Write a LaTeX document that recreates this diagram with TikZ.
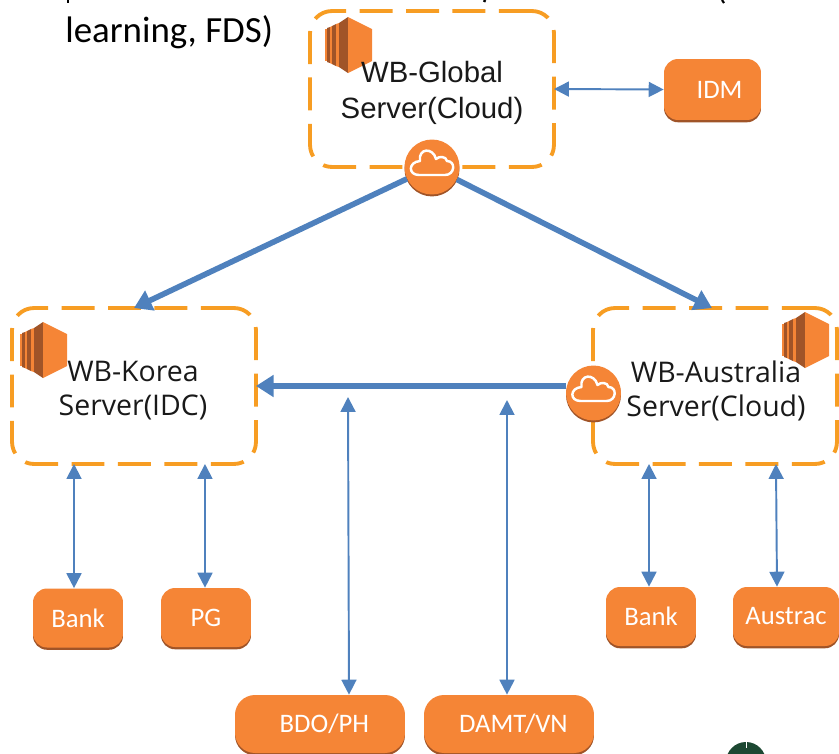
\documentclass[tikz,border=0pt]{standalone}
\usepackage{fontspec}
\setmainfont{Carlito}
\newfontfamily\arialfont{Liberation Sans}
\newfontfamily\segoefont{Open Sans}
\usetikzlibrary{arrows.meta,shadows}
\definecolor{awsorange}{RGB}{245,133,54}
\definecolor{awsdark}{RGB}{160,84,40}
\definecolor{dashorange}{RGB}{247,157,35}
\definecolor{linkblue}{RGB}{79,129,189}
\definecolor{logogreen}{RGB}{28,72,50}
\tikzset{
    serverstack/.pic={
        \fill[awsorange] (0,12) -- (2,12) -- (2,44) -- (0,44) -- cycle;
        \fill[awsdark] (2,11) -- (5,10) -- (5,46) -- (2,45) -- cycle;
        \fill[awsorange] (5,10) -- (7,9) -- (7,47) -- (5,46) -- cycle;
        \fill[awsdark] (7,9) -- (11,7) -- (11,49) -- (7,47) -- cycle;
        \fill[awsorange] (11,7) -- (14,6) -- (14,50) -- (11,49) -- cycle;
        \fill[awsdark] (14,6) -- (23,0) -- (23,56) -- (14,50) -- cycle;
        \fill[awsorange] (23,0) -- (47,12) -- (47,44) -- (23,56) -- cycle;
    },
    cloudmark/.pic={
        \draw[white, line width=1.4pt, line join=round]
            (-13,8) -- (13,8) .. controls (23,8) and (24,-6) .. (15,-6)
            .. controls (14,-11) and (7,-11) .. (4,-8)
            .. controls (1,-20) and (-14,-19) .. (-12,-6)
            .. controls (-24,-5) and (-24,8) .. (-13,8) -- cycle;
    }
}

\begin{document}
\begin{tikzpicture}[
    x=0.02cm, y=-0.02cm,
    serverbox/.style={rectangle, draw=dashorange, line width=2.2pt, rounded corners=0.44cm, dash pattern=on 0.66cm off 0.27cm, minimum width=4.88cm, minimum height=3.12cm, outer sep=0pt},
    serverlabel/.style={align=center, inner sep=0pt, font=\segoefont\fontsize{16.2}{19.3}\selectfont, text=black!90},
    endpoint/.style={rectangle, fill=awsorange, rounded corners=0.28cm, minimum width=1.8cm, minimum height=1.18cm, inner sep=0pt, align=center, text=white, font=\fontsize{15.2}{18}\selectfont, general shadow={shadow yshift=-1.3pt, fill=awsdark}},
    cloudgate/.style={circle, fill=awsorange, minimum size=1.1cm, inner sep=0pt, general shadow={shadow yshift=-1.1pt, fill=awsdark}},
    trunk/.style={-{Triangle[length=10pt, width=12pt]}, linkblue, line width=3.2pt},
    link/.style={{Triangle[length=8.5pt, width=8.5pt]}-{Triangle[length=8.5pt, width=8.5pt]}, linkblue, line width=1.1pt},
    note/.style={inner sep=0pt, anchor=base west, font=\fontsize{21}{25}\selectfont}
]
\clip (0,0) rectangle (839,754);

% Slide text cut off at the top
\node[note] (noteline) at (65,42) {learning, FDS)};
\draw[black, line width=1.4pt] (68,0) -- (68,3);
\draw[black, line width=1.4pt] (485,0) -- (484,2);
\draw[black, line width=1.2pt] (722,0) -- (724,3);

% Server icons
\pic at (325,17) {serverstack};
\pic at (20,322) {serverstack};
\pic at (782,312) {serverstack};

% Servers
\node[serverbox] (global) at (432,89) {};
\node[serverbox] (korea) at (134,386) {};
\node[serverbox] (australia) at (715,386) {};
\node[serverlabel, font=\arialfont\fontsize{16.7}{20.4}\selectfont] (globallabel) at (432,92.5) {WB-Global\\Server(Cloud)};
\node[serverlabel] (korealabel) at (133,391) {WB-Korea\\Server(IDC)};
\node[serverlabel] (australialabel) at (716,391) {WB-Australia\\Server(Cloud)};

% Cloud gateways
\node[cloudgate] (cloudglobal) at (432,167) {};
\node[cloudgate] (cloudaustralia) at (593.5,393) {};
\pic at (cloudglobal) {cloudmark};
\pic at (cloudaustralia) {cloudmark};

% External parties
\node[endpoint, minimum width=1.94cm, minimum height=1.22cm] (idm) at (712.5,89.5) {\hspace{8pt}IDM};
\node[endpoint] (bankkorea) at (78,618) {Bank};
\node[endpoint] (pg) at (206,617.5) {PG};
\node[endpoint] (bankaustralia) at (651,616.5) {Bank};
\node[endpoint, minimum width=2.12cm] (austrac) at (786,616.5) {Austrac};
\node[endpoint, minimum width=3.4cm, minimum height=1.16cm, rounded corners=0.4cm] (bdo) at (320,724) {\hspace{5pt}\raisebox{-4pt}{BDO/PH}};
\node[endpoint, minimum width=3.4cm, minimum height=1.16cm, rounded corners=0.4cm] (damt) at (509,724) {\hspace{5pt}\raisebox{-4pt}{DAMT/VN}};

% Trunk lines
\draw[trunk] (cloudglobal) -- (korea.north);
\draw[trunk] (cloudglobal) -- ([xshift=-0.06cm]australia.north);
\draw[trunk] (korea.east -| cloudaustralia.west) -- (korea.east);

% Links to the parties
\coordinate (bdotop) at (348,397);
\coordinate (damttop) at (507,400);
\draw[link] (global.east) -- (idm.west);
\draw[link] ([xshift=-1.2cm]korea.south) -- ([xshift=-0.08cm]bankkorea.north);
\draw[link] ([xshift=1.42cm]korea.south) -- ([xshift=-0.02cm]pg.north);
\draw[link] ([xshift=-1.32cm]australia.south) -- ([xshift=-0.04cm]bankaustralia.north);
\draw[link] ([xshift=1.22cm]australia.south) -- ([xshift=-0.18cm]austrac.north);
\draw[link] (bdotop) -- ([xshift=0.58cm]bdo.north);
\draw[link] (damttop) -- ([xshift=-0.04cm]damt.north);

% Logo cut off at the bottom
\node[circle, fill=logogreen, minimum size=0.8cm, inner sep=0pt] (logo) at (746,762) {};
\draw[white, line width=0.4pt] (logo.north) -- ++(0,6);
\end{tikzpicture}
\end{document}
